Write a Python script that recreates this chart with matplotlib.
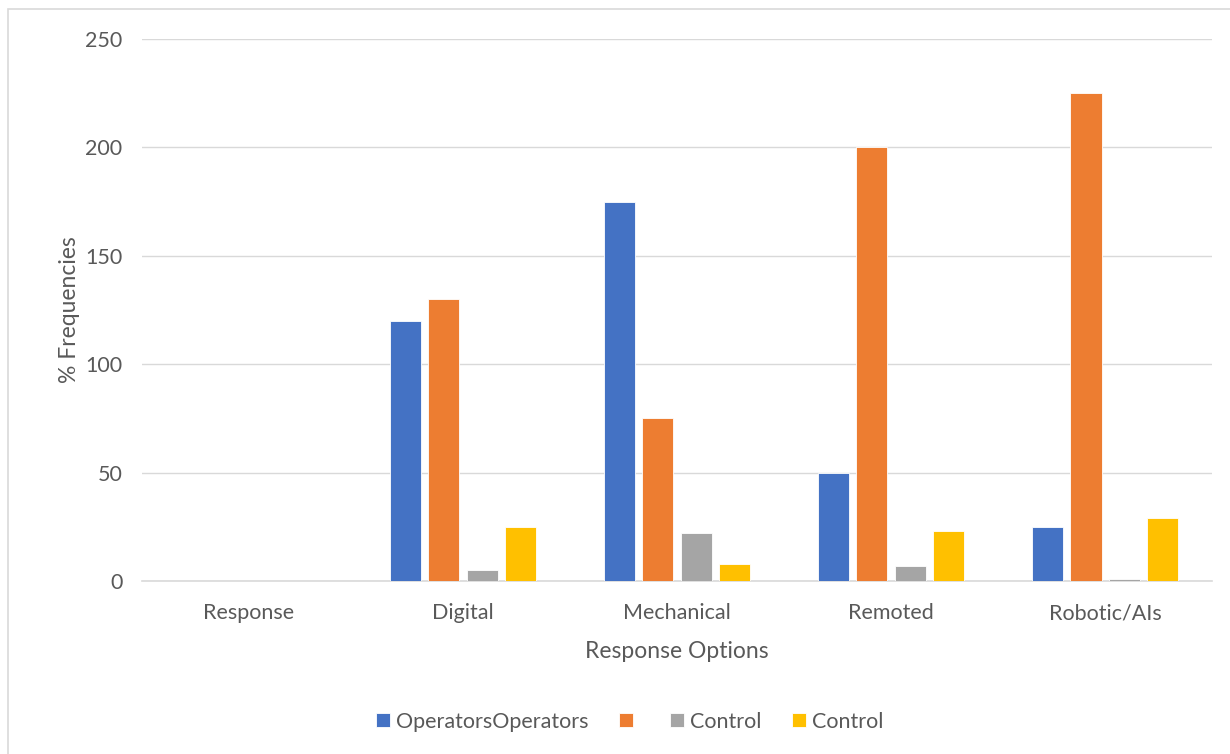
import numpy as np
from matplotlib import pyplot as plt
from matplotlib.patches import Rectangle

categories = ["Response", "Digital", "Mechanical", "Remoted", "Robotic/AIs"]
operators = [0, 120, 175, 50, 25]
second = [0, 130, 75, 200, 225]
control_a = [0, 5, 22, 7, 1]
control_b = [0, 25, 8, 23, 29]
labels = ["OperatorsOperators", "", "Control", "Control"]
colors = ["#4472C4", "#ED7D31", "#A5A5A5", "#FFC000"]
yticks = [0, 50, 100, 150, 200, 250]


def main():
    plt.rcParams['font.family'] = ['Lato', 'DejaVu Sans']
    text_color = "#595959"

    fig = plt.figure(figsize=(12.3, 7.54), dpi=100)
    ax = fig.add_axes([0.1154, 0.2294, 0.87, 0.7189])

    x = np.arange(len(categories))
    width = 0.145
    step = 0.178
    series = [operators, second, control_a, control_b]
    handles = []
    for i, (vals, col) in enumerate(zip(series, colors)):
        bars = ax.bar(x + (i - 1.5) * step, vals, width, color=col,
                      edgecolor="white", linewidth=0.6, zorder=3)
        handles.append(bars)

    ax.set_xlim(-0.5, len(categories) - 0.5)
    ax.set_ylim(0, 250)
    ax.set_yticks(yticks)
    ax.set_xticks(x)
    ax.set_xticklabels(categories)
    ax.grid(axis='y', color="#D9D9D9", linewidth=1, zorder=0)
    for side in ['top', 'right', 'left']:
        ax.spines[side].set_visible(False)
    ax.spines['bottom'].set_color("#D9D9D9")
    ax.spines['bottom'].set_linewidth(1.2)
    ax.tick_params(axis='both', length=0, labelsize=15.5, colors=text_color)
    ax.tick_params(axis='x', pad=16)
    ax.tick_params(axis='y', pad=14)

    ax.set_xlabel('Response Options', fontsize=16.5, color=text_color, labelpad=13)
    ax.set_ylabel('% Frequencies', fontsize=16.5, color=text_color, labelpad=4)

    fig.legend(handles, labels, loc='center', bbox_to_anchor=(0.512, 0.043),
               ncol=4, frameon=False, fontsize=15.5, labelcolor=text_color,
               handlelength=0.65, handleheight=0.65, handletextpad=0.3,
               columnspacing=1.4)

    fig.patches.append(Rectangle((8 / 1230, -0.01), 1.1, 1 - 9 / 754 + 0.01,
                                 transform=fig.transFigure, fill=False,
                                 edgecolor="#D9D9D9", linewidth=1.2))

    fig.savefig("out.png", dpi=100)


if __name__ == "__main__":
    main()
